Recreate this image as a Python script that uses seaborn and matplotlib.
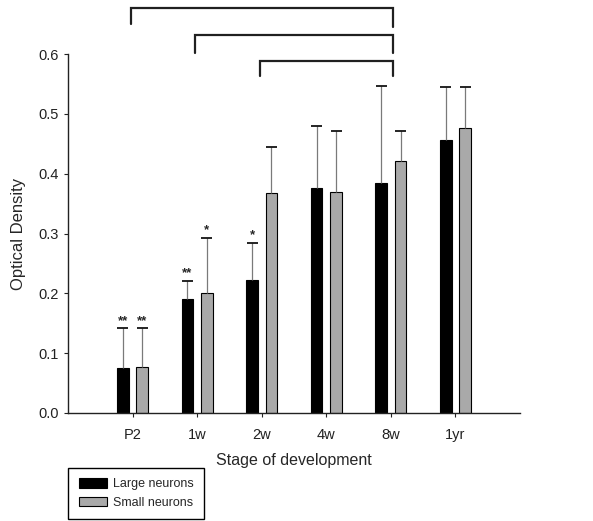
import pandas as pd
import matplotlib
matplotlib.use("Agg")
import matplotlib.pyplot as plt
import seaborn as sns

# data
stages = ["P2", "1w", "2w", "4w", "8w", "1yr"]
large_mean = [0.075, 0.190, 0.223, 0.377, 0.384, 0.456]
large_err = [0.067, 0.031, 0.062, 0.103, 0.163, 0.089]
small_mean = [0.077, 0.200, 0.368, 0.370, 0.422, 0.477]
small_err = [0.065, 0.093, 0.077, 0.102, 0.050, 0.068]
large_marks = ["**", "**", "*", "", "", ""]
small_marks = ["**", "*", "", "", "", ""]
groups = ["Large neurons", "Small neurons"]

# significance brackets: (from stage, to stage, bar level, left leg, right leg)
brackets = [
    ("P2", "8w", 0.678, 0.650, 0.645),
    ("1w", "8w", 0.632, 0.602, 0.602),
    ("2w", "8w", 0.589, 0.563, 0.563),
]


def main():
    df = pd.DataFrame({
        "stage": stages * 2,
        "od": large_mean + small_mean,
        "group": [groups[0]] * len(stages) + [groups[1]] * len(stages),
    })

    sns.set_style("ticks")
    plt.rcParams["font.family"] = ["Liberation Sans", "DejaVu Sans"]

    fig = plt.figure(figsize=(5.93, 5.21), dpi=100)
    ax = fig.add_axes([0.1147, 0.2073, 0.7623, 0.6887])

    sns.barplot(data=df, x="stage", y="od", hue="group", order=stages,
                hue_order=groups, palette=["black", "#a9a9a9"],
                width=0.6, gap=0.4, edgecolor="black", linewidth=0.8,
                errorbar=None, saturation=1, ax=ax, legend=True)

    errs = [large_err, small_err]
    marks = [large_marks, small_marks]
    for k, cont in enumerate(ax.containers):
        for i, bar in enumerate(cont):
            cx = bar.get_x() + bar.get_width() / 2
            h = bar.get_height()
            top = h + errs[k][i]
            ax.vlines(cx, h, top, color="#7a7a7a", lw=0.9, zorder=1)
            ax.hlines(top, cx - 0.085, cx + 0.085, color="black", lw=1.2)
            if marks[k][i]:
                ax.text(cx, top + 0.002, marks[k][i], ha="center",
                        va="bottom", fontsize=9.5, fontweight="bold")

    pos = {s: i for i, s in enumerate(stages)}
    for a, b, lvl, lleg, rleg in brackets:
        xa, xb = pos[a] - 0.03, pos[b] + 0.04
        ax.plot([xa, xa, xb, xb], [lleg, lvl, lvl, rleg], color="#202020",
                lw=1.6, clip_on=False, solid_joinstyle="miter")

    ax.set_xlim(-1, 6)
    ax.set_ylim(0, 0.6)
    ax.set_yticks([0.0, 0.1, 0.2, 0.3, 0.4, 0.5, 0.6])
    ax.set_yticklabels([f"{v:.1f}" for v in ax.get_yticks()])
    ax.tick_params(axis="both", labelsize=10.5, length=3, width=0.8,
                   direction="out", colors="#222222")
    ax.tick_params(axis="x", pad=8)
    for side in ["top", "right"]:
        ax.spines[side].set_visible(False)
    for side in ["left", "bottom"]:
        ax.spines[side].set_linewidth(1.0)
        ax.spines[side].set_color("#222222")

    ax.set_xlabel("Stage of development", fontsize=11.5, labelpad=8)
    ax.set_ylabel("Optical Density", fontsize=12, labelpad=9)

    handles, labels = ax.get_legend_handles_labels()
    ax.get_legend().remove()
    fig.legend(handles, labels, loc="lower left",
               bbox_to_anchor=(0.1147, 0.003), borderaxespad=0,
               fontsize=9, frameon=True, fancybox=False,
               edgecolor="black", framealpha=1,
               handlelength=2.3, handleheight=0.8, borderpad=0.85,
               labelspacing=0.5, handletextpad=0.45)

    fig.savefig("out.png", dpi=100)
    plt.close(fig)


if __name__ == "__main__":
    main()
